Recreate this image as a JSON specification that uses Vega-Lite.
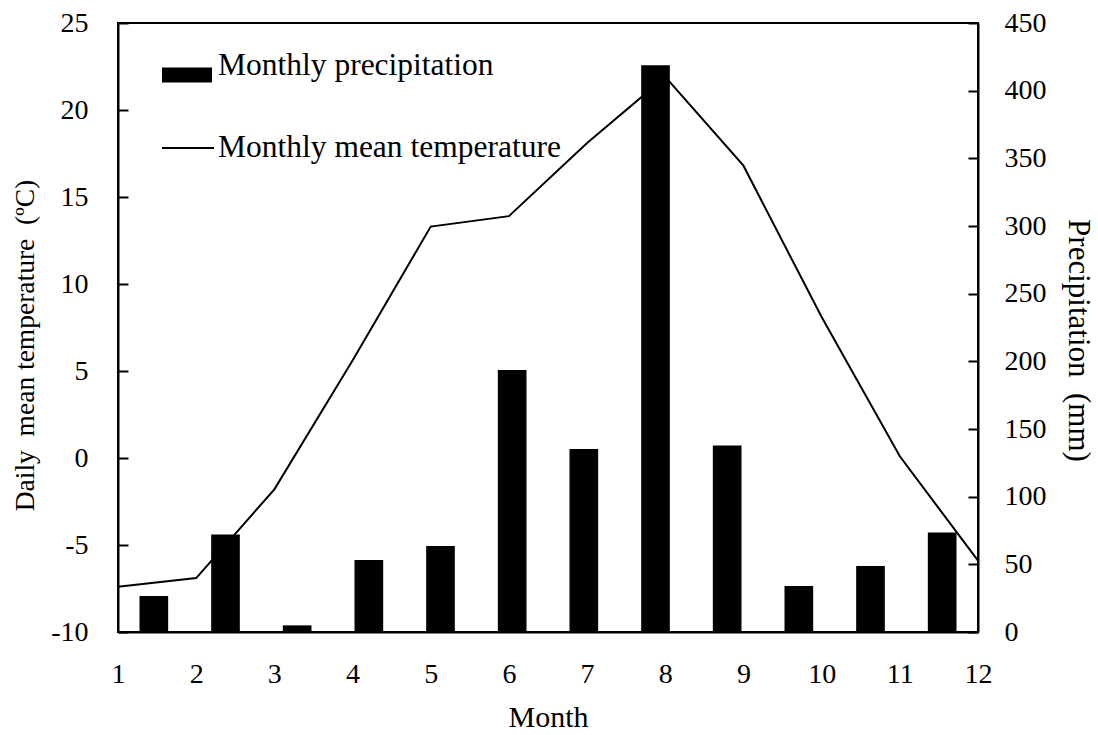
{
  "$schema": "https://vega.github.io/schema/vega-lite/v6.json",
  "width": 860,
  "height": 609,
  "autosize": {"type": "none"},
  "padding": {"left": 118, "top": 23, "right": 120, "bottom": 103},
  "background": "white",
  "config": {
    "font": "Liberation Serif",
    "view": {"stroke": "black", "strokeWidth": 2},
    "axis": {
      "domainColor": "black",
      "domainWidth": 2,
      "tickColor": "black",
      "tickWidth": 2,
      "labelColor": "black",
      "titleColor": "black",
      "labelFont": "Liberation Serif",
      "titleFont": "Liberation Serif",
      "labelFontSize": 28,
      "titleFontWeight": "normal",
      "grid": false
    },
    "legend": {
      "labelFont": "Liberation Serif",
      "labelColor": "black",
      "labelFontSize": 31.5,
      "labelLimit": 0,
      "padding": 0
    }
  },
  "data": {
    "values": [
      {"month": 1, "precip": 26.6, "temp": -7.4},
      {"month": 2, "precip": 72.1, "temp": -6.9},
      {"month": 3, "precip": 4.9, "temp": -1.8},
      {"month": 4, "precip": 53.2, "temp": 5.6},
      {"month": 5, "precip": 63.5, "temp": 13.3},
      {"month": 6, "precip": 193.6, "temp": 13.9},
      {"month": 7, "precip": 135.2, "temp": 18.1},
      {"month": 8, "precip": 418.7, "temp": 21.9},
      {"month": 9, "precip": 137.9, "temp": 16.8},
      {"month": 10, "precip": 34.0, "temp": 8.1},
      {"month": 11, "precip": 48.8, "temp": 0.1},
      {"month": 12, "precip": 73.6, "temp": -5.9}
    ]
  },
  "layer": [
    {
      "mark": {"type": "line", "strokeWidth": 2},
      "encoding": {
        "x": {
          "field": "month",
          "type": "quantitative",
          "scale": {"domain": [1, 12], "nice": false, "zero": false},
          "axis": {
            "values": [1, 2, 3, 4, 5, 6, 7, 8, 9, 10, 11, 12],
            "format": "d",
            "ticks": false,
            "tickSize": 0,
            "labelPadding": 28,
            "labelFlush": false,
            "title": "Month",
            "titleFontSize": 30,
            "titleBaseline": "alphabetic",
            "titleX": 430,
            "titleY": 94
          }
        },
        "y": {
          "field": "temp",
          "type": "quantitative",
          "scale": {"domain": [-10, 25], "nice": false, "zero": false},
          "axis": {
            "orient": "left",
            "values": [-10, -5, 0, 5, 10, 15, 20, 25],
            "labelExpr": "replace(datum.label, '\u2212', '-')",
            "tickSize": -10,
            "labelPadding": 40,
            "title": "Daily\u00a0 mean temperature\u00a0 (ºC)",
            "titleFontSize": 27.5,
            "titleAngle": 270,
            "titleBaseline": "alphabetic",
            "titleX": -85,
            "titleY": 322
          }
        },
        "stroke": {
          "datum": "Monthly mean temperature",
          "type": "nominal",
          "scale": {"range": ["black"]},
          "legend": {
            "title": null,
            "orient": "none",
            "legendX": 43,
            "legendY": 98,
            "symbolType": "stroke",
            "symbolSize": 2704,
            "symbolStrokeWidth": 2,
            "labelOffset": 3,
            "labelBaseline": "middle"
          }
        }
      }
    },
    {
      "mark": {"type": "bar", "color": "black"},
      "encoding": {
        "x": {
          "field": "month",
          "type": "ordinal",
          "scale": {"paddingInner": 0.6, "paddingOuter": 0.3},
          "axis": null
        },
        "y": {
          "field": "precip",
          "type": "quantitative",
          "scale": {"domain": [0, 450], "nice": false},
          "axis": {
            "orient": "right",
            "values": [0, 50, 100, 150, 200, 250, 300, 350, 400, 450],
            "tickSize": -10,
            "labelPadding": 36,
            "title": "Precipitation\u00a0 (mm)",
            "titleFontSize": 31,
            "titleAngle": 90,
            "titleBaseline": "alphabetic",
            "titleX": 90,
            "titleY": 317
          }
        },
        "fill": {
          "datum": "Monthly precipitation",
          "type": "nominal",
          "scale": {"range": ["black"]},
          "legend": {
            "title": null,
            "orient": "none",
            "legendX": 44,
            "legendY": 27,
            "symbolType": "M-1,-0.3H1V0.3H-1Z",
            "symbolSize": 2500,
            "symbolStrokeWidth": 0,
            "labelOffset": 6,
            "labelBaseline": "alphabetic"
          }
        }
      }
    }
  ],
  "resolve": {
    "scale": {"x": "independent", "y": "independent", "fill": "independent", "stroke": "independent"},
    "axis": {"x": "independent", "y": "independent"},
    "legend": {"fill": "independent", "stroke": "independent"}
  }
}
